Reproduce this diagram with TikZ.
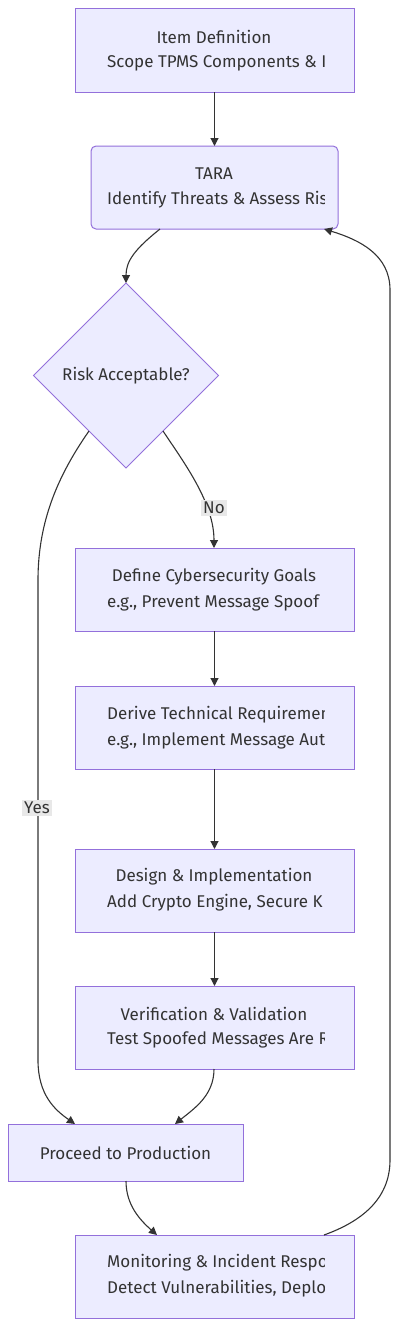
\documentclass[tikz,border=0pt]{standalone}
\usepackage{fontspec}
\setmainfont{Fira Sans}
\usetikzlibrary{shapes.geometric,arrows.meta,calc}
\definecolor{nodefill}{HTML}{ECECFF}
\definecolor{nodeline}{HTML}{9370DB}
\definecolor{ink}{HTML}{333333}
\definecolor{lblbg}{HTML}{E8E8E8}
\tikzset{
  box/.style={draw=nodeline, fill=nodefill, line width=1pt, inner sep=0pt, outer sep=0pt},
  txt/.style={text=ink, inner sep=0pt, font=\fontsize{17}{20}\selectfont},
  edge/.style={draw=ink, line width=1.1pt, -{Triangle[length=8pt,width=8pt]}},
  lbl/.style={fill=lblbg, text=ink, inner sep=2pt, font=\fontsize{17}{20}\selectfont},
}
\begin{document}
\begin{tikzpicture}[x=1pt,y=-1pt]
\useasboundingbox (0,0) rectangle (400,1328);
\fill[white] (0,0) rectangle (400,1328);

% boxes
\node[box, minimum width=279pt, minimum height=84pt] (n1) at (214.5,50) {};
\node[box, rounded corners=5pt, minimum width=247pt, minimum height=83pt] (n2) at (214.5,187.5) {};
\node[box, diamond, aspect=1, minimum width=185pt, minimum height=185pt, text=ink, font=\fontsize{17}{20}\selectfont] (d) at (126,375.5) {Risk Acceptable?};
\node[box, minimum width=279pt, minimum height=83pt] (n4) at (214.5,589.5) {};
\node[box, minimum width=279pt, minimum height=83pt] (n5) at (214.5,727.5) {};
\node[box, minimum width=279pt, minimum height=83pt] (n6) at (214.5,890.5) {};
\node[box, minimum width=279pt, minimum height=83pt] (n7) at (214.5,1027.5) {};
\node[box, minimum width=235pt, minimum height=57pt] (n8) at (125.5,1152.5) {};
\node[box, minimum width=279pt, minimum height=83pt] (n9) at (214.5,1276.5) {};

% texts
\node[txt] (t8) at (n8) {Proceed to Production};
\begin{scope}
\clip (106,0) rectangle (324,1328);
\node[txt] (t1a) at (214,37) {Item Definition};
\node[txt, anchor=west] (t1b) at (107,63) {Scope TPMS Components \& I};
\node[txt] (t2a) at (214,174) {TARA};
\node[txt, anchor=west] (t2b) at (107,200) {Identify Threats \& Assess Risk};
\node[txt] (t4a) at (214,577) {Define Cybersecurity Goals};
\node[txt, anchor=west] (t4b) at (107,603) {e.g., Prevent Message Spoof};
\node[txt, anchor=west] (t5a) at (107,715) {Derive Technical Requiremen};
\node[txt, anchor=west] (t5b) at (107,741) {e.g., Implement Message Aut};
\node[txt] (t6a) at (214,877) {Design \& Implementation};
\node[txt, anchor=west] (t6b) at (107,903) {Add Crypto Engine, Secure K};
\node[txt] (t7a) at (214,1014) {Verification \& Validation};
\node[txt, anchor=west] (t7b) at (107,1040) {Test Spoofed Messages Are R};
\node[txt, anchor=west] (t9a) at (107,1263) {Monitoring \& Incident Respon};
\node[txt, anchor=west] (t9b) at (107,1289) {Detect Vulnerabilities, Deplo};
\end{scope}

% coordinates on diamond
\coordinate (dyes) at ($(d.west)!0.6!(d.south)$);
\coordinate (dno) at ($(d.east)!0.6!(d.south)$);

% edges
\draw[edge] (n1.south) -- (n2.north);
\draw[edge] ([xshift=-54.5pt]n2.south) .. controls +(-25,20) and +(0,-22) .. (d.north);
\draw[edge] (dno) .. controls +(22,33) and +(0,-45) .. ([xshift=-0.5pt]n4.north);
\node[lbl] (lno) at (214,508) {No};
\draw[edge] (dyes) .. controls +(-30,43) and +(0,-60) .. (38,580) -- (38,1060) .. controls +(0,35) and +(-20,-14) .. ([xshift=-50.5pt]n8.north);
\node[lbl] (lyes) at (37,808) {Yes};
\draw[edge] (n4.south) -- (n5.north);
\draw[edge] (n5.south) -- (n6.north);
\draw[edge] (n6.south) -- (n7.north);
\draw[edge] ([xshift=-0.5pt]n7.south) .. controls +(0,26) and +(20,-16) .. ([xshift=49.5pt]n8.north);
\draw[edge] ([xshift=0.5pt]n8.south) .. controls +(0,24) and +(-17,-15) .. ([xshift=-57.5pt]n9.north);
\draw[edge] ([xshift=109.5pt]n9.north) .. controls +(36,-13) and +(0,40) .. (390,1160) -- (390,290) .. controls +(0,-35) and +(36,11) .. ([xshift=109.5pt]n2.south);
\end{tikzpicture}
\end{document}
